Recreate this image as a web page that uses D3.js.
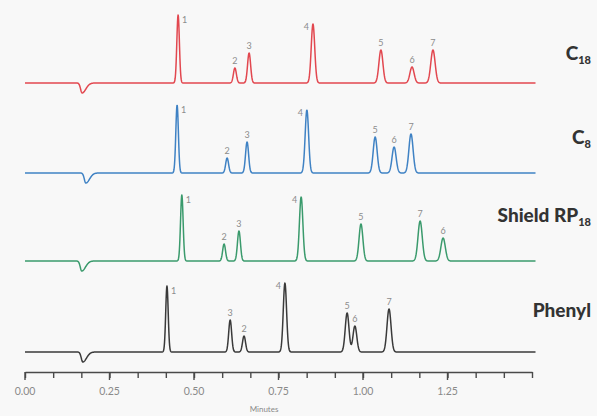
<!DOCTYPE html>
<html>
<head>
<meta charset="utf-8">
<script src="https://cdn.jsdelivr.net/npm/d3@7"></script>
<style>
  html, body { margin: 0; padding: 0; background: #f8f8f8; }
  svg { display: block; }
  .peak-label { font-family: Lato, "DejaVu Sans", sans-serif; font-size: 9px; fill: #8c8c8c; }
  .col-label { font-family: Lato, "Open Sans", sans-serif; font-weight: 900; fill: #333; }
  .axis text { font-family: Lato, sans-serif; font-size: 10.5px; fill: #8a8a8a; }
  .axis line, .axis path { stroke: #4a4a4a; stroke-width: 1.4px; }
</style>
</head>
<body>
<svg id="chart" width="597" height="416"></svg>
<script>
// peak tables: retention time (min), height, peak number
const columns = ["C18", "C8", "Shield RP18", "Phenyl"]
const colors = ["#e2474f", "#3f82c4", "#3a9a6c", "#3a3a3a"]

const c18Times   = [0.453, 0.621, 0.663, 0.852, 1.053, 1.145, 1.207]
const c18Heights = [68, 15, 30, 59, 33, 16, 33]
const c18Ids     = [1, 2, 3, 4, 5, 6, 7]

const c8Times   = [0.450, 0.598, 0.657, 0.834, 1.036, 1.092, 1.142]
const c8Heights = [68, 15, 31, 63, 36, 26, 39]
const c8Ids     = [1, 2, 3, 4, 5, 6, 7]

const shieldTimes   = [0.464, 0.589, 0.633, 0.817, 0.994, 1.169, 1.237]
const shieldHeights = [66, 17, 30, 64, 37, 40, 23]
const shieldIds     = [1, 2, 3, 4, 5, 7, 6]

const phenylTimes   = [0.420, 0.607, 0.648, 0.769, 0.953, 0.976, 1.077]
const phenylHeights = [66, 32, 16, 69, 39, 26, 43]
const phenylIds     = [1, 3, 2, 4, 5, 6, 7]

// void-volume dip (negative peak)
const dipTimes  = [0.169, 0.180, 0.168, 0.171]
const dipDepths = [-10, -10, -10, -10]

const majorTicks = [0, 0.25, 0.5, 0.75, 1.0, 1.25]
const tickLabels = ["0.00", "0.25", "0.50", "0.75", "1.00", "1.25"]

const svg = d3.select('#chart')
const x = d3.scaleLinear().domain([0, 1.5]).range([25, 532])

const baselines = [83, 173, 261, 352]
const tables = [
  [c18Times, c18Heights, c18Ids],
  [c8Times, c8Heights, c8Ids],
  [shieldTimes, shieldHeights, shieldIds],
  [phenylTimes, phenylHeights, phenylIds]
]

function signal(t, times, heights, dipT, dipD) {
  let v = 0
  times.forEach((rt, i) => {
    let s = 0.0036 + (rt - 0.4) * 0.0035
    v += heights[i] * Math.exp(-0.5 * ((t - rt) / s) ** 2)
  })
  // dip: steep front, short tail
  let ds = t < dipT ? 0.0045 : 0.011
  v += dipD * Math.exp(-0.5 * ((t - dipT) / ds) ** 2)
  return v
}

let tGrid = d3.range(0, 1.511, 0.0008)

tables.forEach(([times, heights, ids], k) => {
  let y = d3.scaleLinear().domain([0, 100]).range([baselines[k], baselines[k] - 100])
  let pts = tGrid.map(t => [t, signal(t, times, heights, dipTimes[k], dipDepths[k])])
  let line = d3.line().x(d => x(d[0])).y(d => y(d[1]))

  svg.append('path')
    .datum(pts)
    .attr('d', line)
    .attr('fill', 'none')
    .attr('stroke', colors[k])
    .attr('stroke-width', 1.5)
    .attr('stroke-linejoin', 'round')

  // peak numbers: tall peaks 1 and 4 get side labels, rest sit on top
  times.forEach((rt, i) => {
    let id = ids[i]
    let px = x(rt), py = y(heights[i])
    let lx = px, ly = py - 4, anchor = 'middle'
    if (id === 1) { lx = px + 4; ly = py + 8; anchor = 'start' }
    if (id === 4) { lx = px - 4; ly = py + 6; anchor = 'end' }
    svg.append('text')
      .attr('class', 'peak-label')
      .attr('x', lx).attr('y', ly)
      .attr('text-anchor', anchor)
      .text(id)
  })
})

// column names with subscripts, right aligned
const labelY = [60, 144, 222, 317]
const labelMain = ["C", "C", "Shield RP", "Phenyl"]
const labelSub = ["18", "8", "18", ""]
labelY.forEach((ly, k) => {
  let t = svg.append('text').attr('class', 'col-label')
    .attr('x', 591).attr('y', ly).attr('text-anchor', 'end').style('font-size', '19px')
  t.append('tspan').text(labelMain[k])
  if (labelSub[k]) t.append('tspan').attr('dy', 4).style('font-size', '11px').text(labelSub[k])
})

// time axis: minor ticks every 5 s, longer labelled ticks every 15 s
const axisG = svg.append('g').attr('class', 'axis').attr('transform', 'translate(0,372)')
axisG.call(d3.axisBottom(x)
  .tickValues(d3.range(0, 1.5001, 1 / 12))
  .tickSize(6)
  .tickSizeOuter(0)
  .tickFormat(() => ''))
axisG.selectAll('.tick text').remove()

majorTicks.forEach((v, i) => {
  axisG.append('line').attr('x1', x(v)).attr('x2', x(v)).attr('y1', 0).attr('y2', 8)
  axisG.append('text').attr('x', x(v)).attr('y', 23).attr('text-anchor', 'middle').text(tickLabels[i])
})

svg.append('text')
  .attr('x', 264).attr('y', 412)
  .attr('text-anchor', 'middle')
  .style('font-family', 'Lato, sans-serif').style('font-size', '8px').style('fill', '#888')
  .text('Minutes')
</script>
</body>
</html>
